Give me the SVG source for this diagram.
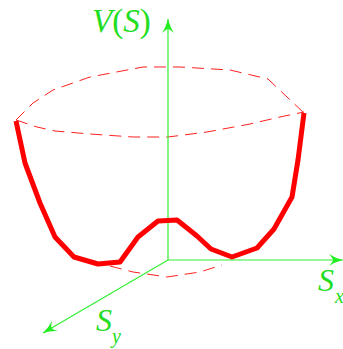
<svg xmlns="http://www.w3.org/2000/svg" width="343" height="349" viewBox="0 0 343 349">
<style>
.axis{stroke:#33ee33;stroke-width:1.2;fill:none}
.lbl{font-family:"Liberation Serif","Times New Roman",serif;fill:#22dd22}
.it{font-style:italic}
.dash{stroke:#ff2020;stroke-width:1;fill:none;stroke-dasharray:12 7}
.curve{stroke:#ff0000;stroke-width:5;fill:none;stroke-linejoin:round;stroke-linecap:butt}
</style>
<defs>
<marker id="arr" markerUnits="userSpaceOnUse" markerWidth="20" markerHeight="16" refX="0" refY="0" viewBox="-16 -8 17 16" orient="auto" overflow="visible">
<path d="M0,0 Q-8,-2 -14,-6 Q-10,-1.5 -10,0 Q-10,1.5 -14,6 Q-8,2 0,0 Z" fill="#22ee22"/>
</marker>
</defs>
<g id="ellipse">
<polyline class="dash" points="16,120 33,103 53,90 90,77 143,67 180,67 230,70 268,79 287,97 304,113"/>
<polyline class="dash" points="16,120 37,127 55,131 90,134 133,137 168,137 207,132 250,124 280,117 304,112"/>
<polyline class="dash" points="110,266 133,272 167,277 200,272 222,265"/>
</g>
<g id="connectors">
<line class="axis" x1="168" y1="260" x2="168" y2="19" marker-end="url(#arr)"/>
<line class="axis" x1="168" y1="260" x2="343" y2="260" marker-end="url(#arr)"/>
<line class="axis" x1="168" y1="260" x2="43" y2="333" marker-end="url(#arr)"/>
</g>
<g id="potential">
<polyline class="curve" points="16,121 25,163 40,203 55,237 74,257 98,264 120,262 138,237 158,221 177,220 197,236 211,249 232,257 257,248 274,229 292,197 298,160 304,113"/>
</g>
<g id="label-V">
<text class="lbl" x="92" y="32" font-size="33"><tspan class="it">V</tspan>(<tspan class="it">S</tspan>)</text>
</g>
<g id="label-Sx">
<text class="lbl it" x="318" y="291" font-size="32">S</text>
<text class="lbl it" x="335" y="303" font-size="20">x</text>
</g>
<g id="label-Sy">
<text class="lbl it" x="96" y="331" font-size="32">S</text>
<text class="lbl it" x="112" y="343" font-size="20">y</text>
</g>
</svg>
